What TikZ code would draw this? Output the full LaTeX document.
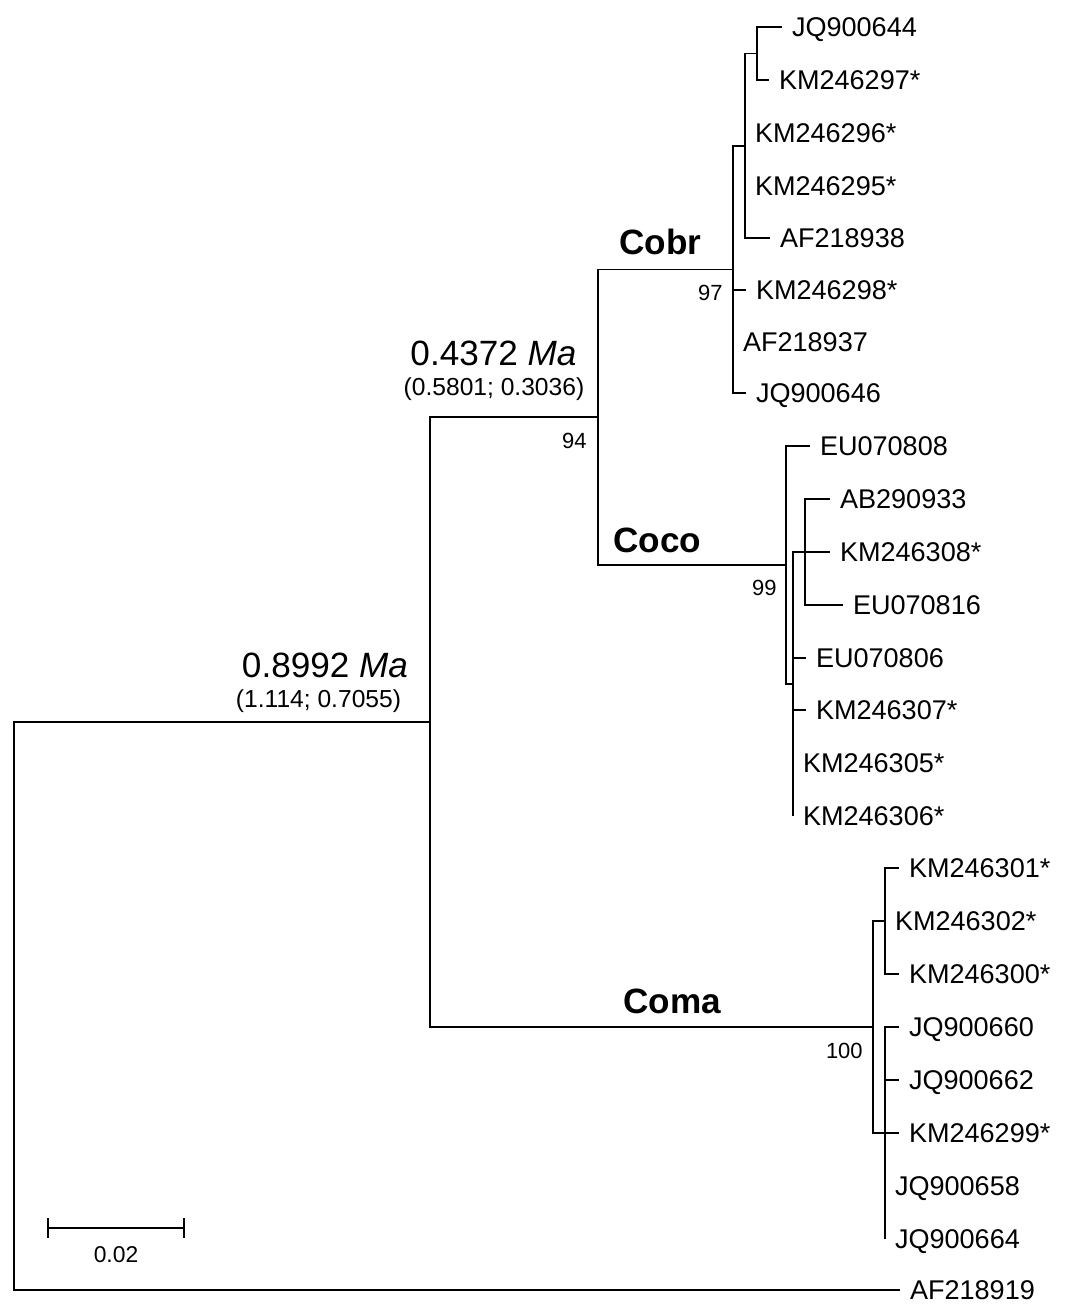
\documentclass[tikz,border=0pt]{standalone}
\usepackage{fontspec}
\setmainfont{Liberation Sans}
\tikzset{
	branch/.style={line width=1.1pt},
	leaf/.style={anchor=west, inner xsep=5.5pt, inner ysep=0pt, text height=11pt, text depth=0pt, font=\fontsize{15.4}{18}\selectfont},
	boot/.style={anchor=base east, inner sep=0pt, font=\fontsize{12.5}{15}\selectfont},
	clade/.style={anchor=base west, inner sep=0pt, font=\fontsize{20}{24}\selectfont\bfseries},
	age/.style={anchor=base, inner sep=0pt, font=\fontsize{20}{24}\selectfont},
	ageci/.style={anchor=base, inner sep=0pt, font=\fontsize{14}{17}\selectfont},
}
\begin{document}
\begin{tikzpicture}[x=0.02cm,y=-0.02cm]
			\useasboundingbox (0,0) rectangle (1073,1304);
			% inner nodes of the tree
			\coordinate (root) at (14,1006);
			\coordinate (ingroup) at (430,722);
			\coordinate (cobrcoco) at (598,417);
			\coordinate (cobr) at (733,269.5);
			\coordinate (cobrA) at (745,146);
			\coordinate (cobrB) at (757,53.5);
			\coordinate (coco) at (786,565);
			\coordinate (cocoA) at (793,684);
			\coordinate (cocoB) at (805,552);
			\coordinate (coma) at (873,1027);
			\coordinate (comaA) at (885,921);
			\coordinate (comaB) at (885,1133);
			% leaves
			\node[leaf] (JQ900644) at (782,27) {JQ900644};
			\node[leaf] (KM246297) at (769,80) {KM246297*};
			\node[leaf] (KM246296) at (745,133) {KM246296*};
			\node[leaf] (KM246295) at (745,186) {KM246295*};
			\node[leaf] (AF218938) at (770,238) {AF218938};
			\node[leaf] (KM246298) at (746,290) {KM246298*};
			\node[leaf] (AF218937) at (733,342) {AF218937};
			\node[leaf] (JQ900646) at (746,393) {JQ900646};
			\node[leaf] (EU070808) at (810,446) {EU070808};
			\node[leaf] (AB290933) at (830,499) {AB290933};
			\node[leaf] (KM246308) at (830,552) {KM246308*};
			\node[leaf] (EU070816) at (843,605) {EU070816};
			\node[leaf] (EU070806) at (806,658) {EU070806};
			\node[leaf] (KM246307) at (806,710) {KM246307*};
			\node[leaf] (KM246305) at (793,763) {KM246305*};
			\node[leaf] (KM246306) at (793,816) {KM246306*};
			\node[leaf] (KM246301) at (899,868) {KM246301*};
			\node[leaf] (KM246302) at (885,921) {KM246302*};
			\node[leaf] (KM246300) at (899,974) {KM246300*};
			\node[leaf] (JQ900660) at (899,1027) {JQ900660};
			\node[leaf] (JQ900662) at (899,1080) {JQ900662};
			\node[leaf] (KM246299) at (899,1133) {KM246299*};
			\node[leaf] (JQ900658) at (885,1186) {JQ900658};
			\node[leaf] (JQ900664) at (885,1239) {JQ900664};
			\node[leaf] (AF218919) at (900,1290) {AF218919};
			% branches
			\draw[branch] (root) |- (ingroup);
			\draw[branch] (root) |- (AF218919.west);
			\draw[branch] (ingroup) |- (cobrcoco);
			\draw[branch] (ingroup) |- (coma);
			\draw[branch] (cobrcoco) |- (cobr);
			\draw[branch] (cobrcoco) |- (coco);
			\draw[branch] (cobr) |- (cobrA);
			\draw[branch] (cobr) |- (KM246298.west);
			\draw[branch] (cobr) |- (AF218937.west);
			\draw[branch] (cobr) |- (JQ900646.west);
			\draw[branch] (cobrA) |- (cobrB);
			\draw[branch] (cobrA) |- (KM246296.west);
			\draw[branch] (cobrA) |- (KM246295.west);
			\draw[branch] (cobrA) |- (AF218938.west);
			\draw[branch] (cobrB) |- (JQ900644.west);
			\draw[branch] (cobrB) |- (KM246297.west);
			\draw[branch] (coco) |- (EU070808.west);
			\draw[branch] (coco) |- (cocoA);
			\draw[branch] (cocoA) |- (cocoB);
			\draw[branch] (cocoA) |- (EU070806.west);
			\draw[branch] (cocoA) |- (KM246307.west);
			\draw[branch] (cocoA) |- (KM246305.west);
			\draw[branch] (cocoA) |- (KM246306.west);
			\draw[branch] (cocoB) |- (AB290933.west);
			\draw[branch] (cocoB) |- (KM246308.west);
			\draw[branch] (cocoB) |- (EU070816.west);
			\draw[branch] (coma) |- (comaA);
			\draw[branch] (coma) |- (comaB);
			\draw[branch] (comaA) |- (KM246301.west);
			\draw[branch] (comaA) |- (KM246302.west);
			\draw[branch] (comaA) |- (KM246300.west);
			\draw[branch] (comaB) |- (JQ900660.west);
			\draw[branch] (comaB) |- (JQ900662.west);
			\draw[branch] (comaB) |- (KM246299.west);
			\draw[branch] (comaB) |- (JQ900658.west);
			\draw[branch] (comaB) |- (JQ900664.west);
			% clade names, support and ages
			\node[clade] (Cobr) at (619,255) {Cobr};
			\node[clade] (Coco) at (613,552) {Coco};
			\node[clade] (Coma) at (623,1013) {Coma};
			\node[boot] (boot94) at (587,448) {94};
			\node[boot] (boot97) at (723,300) {97};
			\node[boot] (boot99) at (777,595) {99};
			\node[boot] (boot100) at (863,1058) {100};
			\node[age] (ageA) at (493.5,365) {0.4372 \textit{Ma}};
			\node[ageci] (ciA) at (494,395) {(0.5801; 0.3036)};
			\node[age] (ageB) at (325,677) {0.8992 \textit{Ma}};
			\node[ageci] (ciB) at (318.5,707) {(1.114; 0.7055)};
			% scale bar
			\coordinate (barL) at (48,1228);
			\coordinate (barR) at (184,1228);
			\draw[branch] (barL) -- (barR);
			\draw[branch] (barL) ++(0,-10) -- ++(0,20);
			\draw[branch] (barR) ++(0,-10) -- ++(0,20);
			\node[ageci, font=\fontsize{13}{16}\selectfont] (barlabel) at (116,1262) {0.02};
\end{tikzpicture}
\end{document}
